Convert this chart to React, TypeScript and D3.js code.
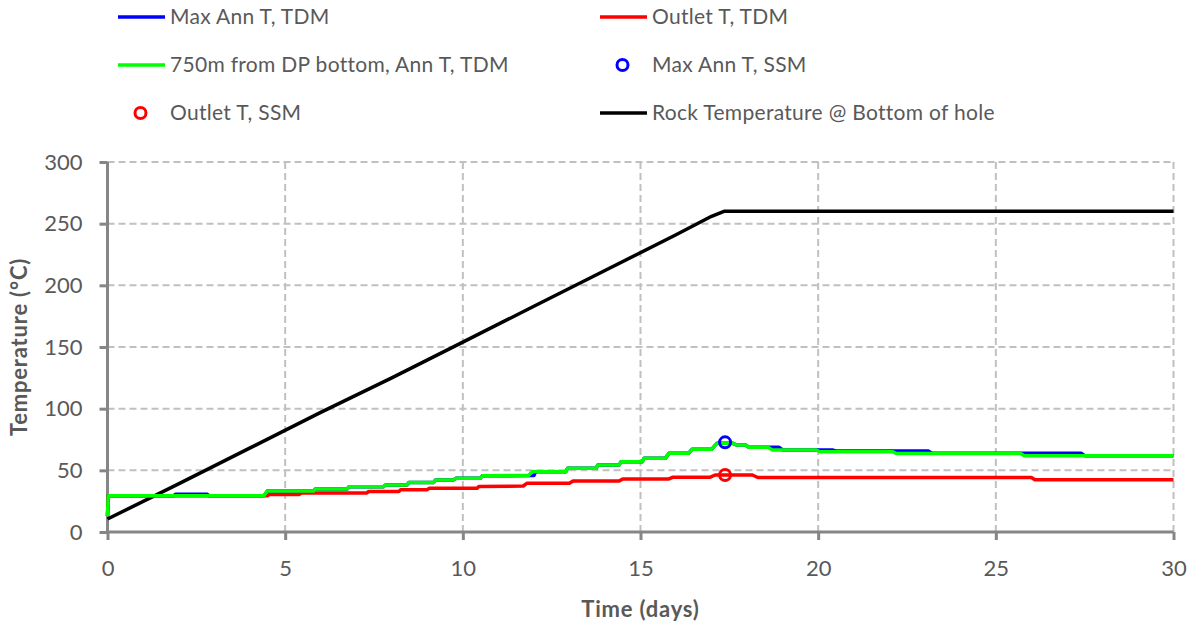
import React, { useEffect, useRef } from 'react';
import * as d3 from 'd3';

type Pt = [number, number];

// [time (days), temperature (°C)]
const maxAnnTDM: Pt[] = [
  [0, 13], [0.02, 29.4], [1.86, 29.4], [1.92, 30.6], [2.8, 30.6], [2.86, 29.4], [4.4, 29.4],
  [4.5, 33.2], [5.8, 33.2], [5.85, 34.9], [6.74, 34.9], [6.8, 36.7], [7.77, 36.7], [7.82, 38.1],
  [8.43, 38.1], [8.48, 40.2], [9.18, 40.2], [9.23, 42.2], [9.74, 42.2], [9.8, 43.5], [10.49, 43.5],
  [10.55, 45.6], [12.0, 45.8], [12.05, 48.9], [12.9, 48.9], [12.95, 51.6], [13.75, 51.6],
  [13.8, 54.3], [14.4, 54.3], [14.45, 57], [15.05, 57], [15.1, 59.7], [15.7, 59.7], [15.8, 63.8],
  [16.35, 63.8], [16.45, 67], [17.0, 67], [17.15, 71.9], [17.6, 71.9], [17.7, 70.5], [17.95, 70.5],
  [18.05, 68.7], [18.9, 68.7], [19.0, 66.5], [20.4, 66.5], [20.5, 65.6], [23.1, 65.6], [23.2, 63.8],
  [27.4, 63.8], [27.5, 61.9], [30, 61.9],
];

const outletTDM: Pt[] = [
  [0, 13], [0.02, 29.4], [4.5, 29.4], [4.55, 30.4], [5.4, 30.4], [5.45, 31.6], [7.3, 31.6],
  [7.35, 32.9], [8.2, 32.9], [8.25, 34.3], [9.0, 34.3], [9.05, 35.4], [10.4, 35.4], [10.45, 36.9],
  [11.7, 37.3], [11.8, 39.5], [13.0, 39.5], [13.1, 41.3], [14.4, 41.3], [14.5, 43], [15.8, 43],
  [15.9, 44.3], [16.95, 44.3], [17.1, 46.2], [18.15, 46.2], [18.3, 44.2], [26.0, 44.2],
  [26.1, 42.3], [30, 42.3],
];

const ann750TDM: Pt[] = [
  [0, 13], [0.02, 29.4], [4.4, 29.4],
  [4.5, 33.2], [5.8, 33.2], [5.85, 34.9], [6.74, 34.9], [6.8, 36.7], [7.77, 36.7], [7.82, 38.1],
  [8.43, 38.1], [8.48, 40.2], [9.18, 40.2], [9.23, 42.2], [9.74, 42.2], [9.8, 43.5], [10.49, 43.5],
  [10.55, 45.6], [11.85, 45.8], [11.95, 48.9], [12.9, 48.9], [12.95, 51.6], [13.75, 51.6],
  [13.8, 54.3], [14.4, 54.3], [14.45, 57], [15.05, 57], [15.1, 59.7], [15.7, 59.7], [15.8, 63.8],
  [16.35, 63.8], [16.45, 67], [17.0, 67], [17.15, 71.9], [17.6, 71.9], [17.7, 70.5], [17.95, 70.5],
  [18.05, 68.7], [18.6, 68.7], [18.7, 66.5], [19.95, 66.5], [20.05, 65.1], [22.1, 65.1],
  [22.2, 63.6], [25.7, 63.6], [25.8, 61.9], [30, 61.9],
];

const rockTemp: Pt[] = [
  [0, 10.5], [2, 39], [4, 68], [6, 97], [8, 125], [10, 154], [12, 183], [14, 212],
  [16, 241], [17.0, 256], [17.35, 260], [30, 260],
];

const maxAnnSSM: Pt[] = [[17.38, 72.7]];
const outletSSM: Pt[] = [[17.38, 46.2]];

const xTicks = [0, 5, 10, 15, 20, 25, 30];
const yTicks = [0, 50, 100, 150, 200, 250, 300];

const FONT = 'Lato, "Open Sans", sans-serif';
const TXT = '#595959';
const AXIS = '#868686';

export default function App() {
  const ref = useRef<SVGSVGElement>(null);

  useEffect(() => {
    const svg = d3.select(ref.current);
    svg.selectAll('*').remove();

    const margin = { left: 107.5, right: 1173.5, top: 162, bottom: 532 };
    const x = d3.scaleLinear().domain([0, 30]).range([margin.left, margin.right]);
    const y = d3.scaleLinear().domain([0, 300]).range([margin.bottom, margin.top]);

    // grid
    const grid = svg.append('g');
    grid.selectAll('line.gy')
      .data(yTicks.filter((d) => d > 0))
      .enter().append('line')
      .attr('x1', margin.left).attr('x2', margin.right)
      .attr('y1', (d) => y(d)).attr('y2', (d) => y(d))
      .attr('stroke', '#c0c0c0').attr('stroke-width', 2).attr('stroke-dasharray', '7,4');
    grid.selectAll('line.gx')
      .data(xTicks.filter((d) => d > 0))
      .enter().append('line')
      .attr('x1', (d) => x(d)).attr('x2', (d) => x(d))
      .attr('y1', margin.top).attr('y2', margin.bottom)
      .attr('stroke', '#c0c0c0').attr('stroke-width', 2).attr('stroke-dasharray', '7,4');

    // axes
    const yAxis = svg.append('g')
      .attr('transform', `translate(${margin.left},0)`)
      .call(d3.axisLeft(y).tickValues(yTicks).tickSize(8).tickPadding(17));
    const xAxis = svg.append('g')
      .attr('transform', `translate(0,${margin.bottom})`)
      .call(d3.axisBottom(x).tickValues(xTicks).tickSize(8).tickPadding(20));
    [yAxis, xAxis].forEach((g) => {
      g.select('.domain').attr('stroke', AXIS).attr('stroke-width', 3);
      g.selectAll('.tick line').attr('stroke', AXIS).attr('stroke-width', 3);
      g.selectAll('.tick text')
        .attr('fill', TXT).style('font-family', FONT).style('font-size', '22px');
    });
    yAxis.select('.domain').attr('d', `M0,${margin.top}V${margin.bottom}`);
    xAxis.select('.domain').attr('d', `M${margin.left},0H${margin.right}`);

    // axis titles
    svg.append('text')
      .attr('x', (margin.left + margin.right) / 2).attr('y', 617)
      .attr('text-anchor', 'middle')
      .attr('fill', TXT).style('font-family', FONT).style('font-size', '22px').style('font-weight', 'bold')
      .style('letter-spacing', '0.8px')
      .text('Time (days)');
    svg.append('text')
      .attr('transform', `translate(27,${(margin.top + margin.bottom) / 2}) rotate(-90)`)
      .attr('text-anchor', 'middle')
      .attr('fill', TXT).style('font-family', FONT).style('font-size', '22px').style('font-weight', 'bold')
      .style('letter-spacing', '0.8px')
      .text('Temperature (°C)');

    // lines
    const line = d3.line<Pt>().x((d) => x(d[0])).y((d) => y(d[1]));
    const series: [Pt[], string][] = [
      [rockTemp, '#000000'],
      [maxAnnTDM, '#0000ff'],
      [outletTDM, '#ff0000'],
      [ann750TDM, '#00ff00'],
    ];
    series.forEach(([data, color]) => {
      svg.append('path')
        .datum(data)
        .attr('d', line)
        .attr('fill', 'none')
        .attr('stroke', color)
        .attr('stroke-width', 3.5)
        .attr('stroke-linejoin', 'round');
    });

    // SSM markers
    const markers: [Pt[], string][] = [[maxAnnSSM, '#0000ff'], [outletSSM, '#ff0000']];
    markers.forEach(([data, color]) => {
      svg.selectAll(null)
        .data(data)
        .enter().append('circle')
        .attr('cx', (d) => x(d[0])).attr('cy', (d) => y(d[1]))
        .attr('r', 5.5)
        .attr('fill', 'none').attr('stroke', color).attr('stroke-width', 3);
    });

    // legend
    const legend = [
      { label: 'Max Ann T, TDM', color: '#0000ff', kind: 'line', lx: 118, ly: 17 },
      { label: 'Outlet T, TDM', color: '#ff0000', kind: 'line', lx: 600, ly: 17 },
      { label: '750m from DP bottom, Ann T, TDM', color: '#00ff00', kind: 'line', lx: 118, ly: 65 },
      { label: 'Max Ann T, SSM', color: '#0000ff', kind: 'circle', lx: 600, ly: 65 },
      { label: 'Outlet T, SSM', color: '#ff0000', kind: 'circle', lx: 118, ly: 113 },
      { label: 'Rock Temperature @ Bottom of hole', color: '#000000', kind: 'line', lx: 600, ly: 113 },
    ];
    const lg = svg.append('g');
    legend.forEach((d) => {
      if (d.kind === 'line') {
        lg.append('line')
          .attr('x1', d.lx).attr('x2', d.lx + 47)
          .attr('y1', d.ly).attr('y2', d.ly)
          .attr('stroke', d.color).attr('stroke-width', 3.5);
      } else {
        lg.append('circle')
          .attr('cx', d.lx + 22.5).attr('cy', d.ly).attr('r', 5.5)
          .attr('fill', 'none').attr('stroke', d.color).attr('stroke-width', 3);
      }
      lg.append('text')
        .attr('x', d.lx + 52).attr('y', d.ly)
        .attr('dy', '0.35em')
        .attr('fill', TXT).style('font-family', FONT).style('font-size', '21px')
        .style('letter-spacing', '0.3px')
        .text(d.label);
    });
  }, []);

  return (
    <svg ref={ref} width={1198} height={626}
      style={{ position: 'absolute', left: 0, top: 0, background: '#fff' }} />
  );
}
